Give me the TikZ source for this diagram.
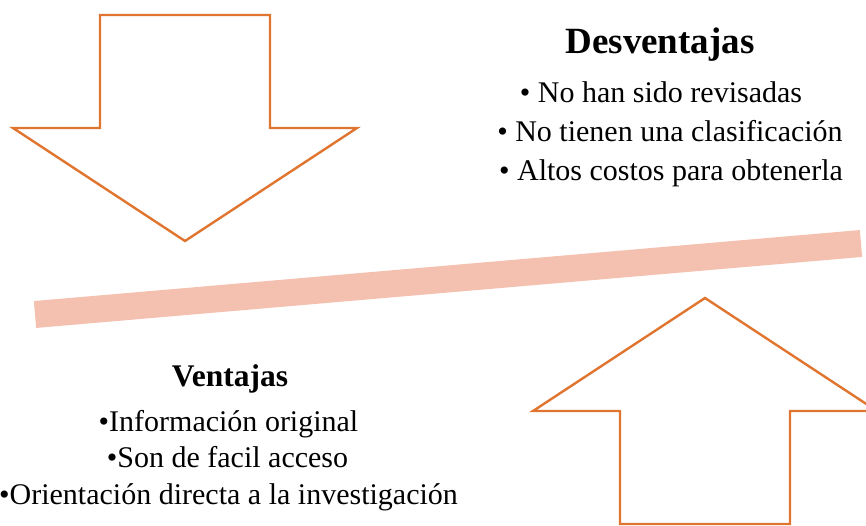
\documentclass[tikz,border=0pt]{standalone}
\usepackage{fontspec}
\setmainfont{Liberation Serif}
\definecolor{arrowline}{RGB}{224,117,48}
\definecolor{barfill}{RGB}{244,192,175}
\tikzset{
  bigarrow/.style={draw=arrowline, line width=2.4pt, fill=white, line join=miter},
  headtxt/.style={anchor=base, inner sep=0pt, font=\bfseries\fontsize{37}{44}\selectfont},
  itemtxt/.style={anchor=base, inner sep=0pt, font=\fontsize{30}{36}\selectfont},
  itemtxtb/.style={anchor=base, inner sep=0pt, font=\fontsize{30}{36}\selectfont},
  headtxtb/.style={anchor=base, inner sep=0pt, font=\bfseries\fontsize{31.5}{38}\selectfont}
}
\begin{document}
\begin{tikzpicture}[x=1pt,y=-1pt]
\useasboundingbox (0,0) rectangle (866,525);
\begin{scope}
\clip (0,0) rectangle (866,525);
% bar
\coordinate (barL) at (35,314.5);
\coordinate (barR) at (861,243.5);
\draw[barfill, line width=27pt] (barL) -- (barR);
% down arrow
\draw[bigarrow] (100,15) -- (270,15) -- (270,128) -- (357,128) -- (185,241) -- (13,128) -- (100,128) -- cycle;
% up arrow
\draw[bigarrow] (705,298) -- (877,411) -- (790,411) -- (790,524) -- (620,524) -- (620,411) -- (533,411) -- cycle;
\end{scope}
% Desventajas
\node[headtxt] (dh) at (660,53) {Desventajas};
\node[itemtxt] (d1) at (661,102) {• No han sido revisadas};
\node[itemtxt] (d2) at (670,141) {• No tienen una clasificación};
\node[itemtxt] (d3) at (671,180) {• Altos costos para obtenerla};
% Ventajas
\node[headtxtb] (vh) at (230,386) {Ventajas};
\node[itemtxtb] (v1) at (228.5,431) {•Información original};
\node[itemtxtb] (v2) at (227.5,467) {•Son de facil acceso};
\node[itemtxtb] (v3) at (228.5,504) {•Orientación directa a la investigación};
\end{tikzpicture}
\end{document}
